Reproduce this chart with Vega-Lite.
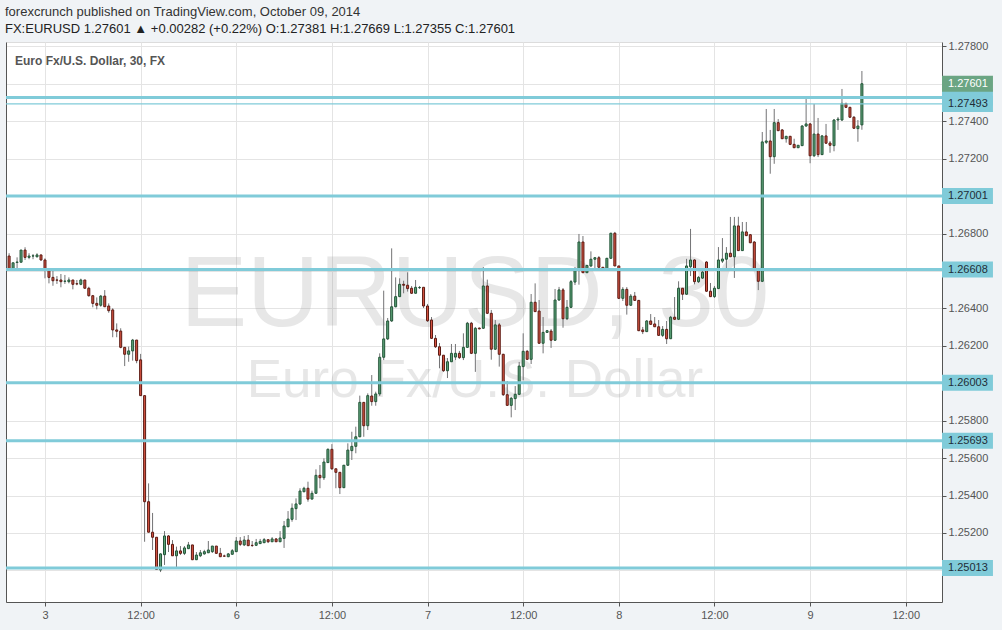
{
"$schema": "https://vega.github.io/schema/vega-lite/v6.json",
"width": 936, "height": 560,
"autosize": {"type": "none"},
"padding": {"left": 6, "top": 42, "right": 60, "bottom": 28},
"background": "#f0f3f6",
"config": {"view": {"fill": "white", "stroke": "#dcdcdc"}},
"title": {"text": "forexcrunch  published on TradingView.com, October 09, 2014", "subtitle": "FX:EURUSD 1.27601 ▲ +0.00282 (+0.22%)  O:1.27381  H:1.27669  L:1.27355  C:1.27601", "anchor": "start", "frame": "group", "font": "Liberation Sans", "fontSize": 13, "fontWeight": "normal", "color": "#333333", "subtitleFont": "Liberation Sans", "subtitleFontSize": 13, "subtitleColor": "#222222", "offset": 4, "subtitlePadding": 4, "dx": -1},
"datasets": {
"candles": [
{"t":-4.5,"open":1.26680,"high":1.26695,"low":1.26609,"close":1.26609},
{"t":-4.0,"open":1.26609,"high":1.26644,"low":1.26605,"close":1.26644},
{"t":-3.5,"open":1.26646,"high":1.26673,"low":1.26609,"close":1.26648},
{"t":-3.0,"open":1.26647,"high":1.26712,"low":1.26647,"close":1.26712},
{"t":-2.5,"open":1.26712,"high":1.26727,"low":1.26659,"close":1.26673},
{"t":-2.0,"open":1.26673,"high":1.26695,"low":1.26663,"close":1.26680},
{"t":-1.5,"open":1.26680,"high":1.26691,"low":1.26663,"close":1.26681},
{"t":-1.0,"open":1.26676,"high":1.26695,"low":1.26673,"close":1.26686},
{"t":-0.5,"open":1.26686,"high":1.26686,"low":1.26655,"close":1.26659},
{"t":0.0,"open":1.26659,"high":1.26668,"low":1.26561,"close":1.26609},
{"t":0.5,"open":1.26609,"high":1.26609,"low":1.26534,"close":1.26566},
{"t":1.0,"open":1.26566,"high":1.26609,"low":1.26521,"close":1.26548},
{"t":1.5,"open":1.26552,"high":1.26573,"low":1.26531,"close":1.26551},
{"t":2.0,"open":1.26552,"high":1.26584,"low":1.26513,"close":1.26543},
{"t":2.5,"open":1.26545,"high":1.26579,"low":1.26531,"close":1.26546},
{"t":3.0,"open":1.26543,"high":1.26566,"low":1.26534,"close":1.26552},
{"t":3.5,"open":1.26552,"high":1.26552,"low":1.26502,"close":1.26529},
{"t":4.0,"open":1.26532,"high":1.26552,"low":1.26524,"close":1.26531},
{"t":4.5,"open":1.26529,"high":1.26559,"low":1.26524,"close":1.26552},
{"t":5.0,"open":1.26552,"high":1.26552,"low":1.26505,"close":1.26508},
{"t":5.5,"open":1.26508,"high":1.26516,"low":1.26463,"close":1.26468},
{"t":6.0,"open":1.26468,"high":1.26472,"low":1.26406,"close":1.26427},
{"t":6.5,"open":1.26427,"high":1.26459,"low":1.26395,"close":1.26417},
{"t":7.0,"open":1.26417,"high":1.26472,"low":1.26409,"close":1.26466},
{"t":7.5,"open":1.26466,"high":1.26498,"low":1.26409,"close":1.26409},
{"t":8.0,"open":1.26413,"high":1.26427,"low":1.26377,"close":1.26388},
{"t":8.5,"open":1.26392,"high":1.26401,"low":1.26246,"close":1.26285},
{"t":9.0,"open":1.26285,"high":1.26320,"low":1.26246,"close":1.26278},
{"t":9.5,"open":1.26279,"high":1.26294,"low":1.26187,"close":1.26192},
{"t":10.0,"open":1.26192,"high":1.26192,"low":1.26092,"close":1.26155},
{"t":10.5,"open":1.26155,"high":1.26196,"low":1.26115,"close":1.26173},
{"t":11.0,"open":1.26173,"high":1.26237,"low":1.26121,"close":1.26231},
{"t":11.5,"open":1.26231,"high":1.26231,"low":1.26107,"close":1.26121},
{"t":12.0,"open":1.26125,"high":1.26157,"low":1.25934,"close":1.25934},
{"t":12.5,"open":1.25934,"high":1.25934,"low":1.25153,"close":1.25367},
{"t":13.0,"open":1.25367,"high":1.25465,"low":1.25203,"close":1.25204},
{"t":13.5,"open":1.25204,"high":1.25307,"low":1.25109,"close":1.25177},
{"t":14.0,"open":1.25177,"high":1.25177,"low":1.25002,"close":1.25005},
{"t":14.5,"open":1.25002,"high":1.25091,"low":1.24991,"close":1.25088},
{"t":15.0,"open":1.25084,"high":1.25210,"low":1.25029,"close":1.25184},
{"t":15.5,"open":1.25184,"high":1.25189,"low":1.25098,"close":1.25139},
{"t":16.0,"open":1.25139,"high":1.25162,"low":1.25077,"close":1.25078},
{"t":16.5,"open":1.25078,"high":1.25127,"low":1.25009,"close":1.25104},
{"t":17.0,"open":1.25104,"high":1.25130,"low":1.25082,"close":1.25091},
{"t":17.5,"open":1.25091,"high":1.25130,"low":1.25082,"close":1.25120},
{"t":18.0,"open":1.25116,"high":1.25152,"low":1.25114,"close":1.25136},
{"t":18.5,"open":1.25136,"high":1.25136,"low":1.25055,"close":1.25057},
{"t":19.0,"open":1.25057,"high":1.25098,"low":1.25055,"close":1.25082},
{"t":19.5,"open":1.25078,"high":1.25109,"low":1.25071,"close":1.25094},
{"t":20.0,"open":1.25088,"high":1.25110,"low":1.25084,"close":1.25100},
{"t":20.5,"open":1.25094,"high":1.25157,"low":1.25093,"close":1.25109},
{"t":21.0,"open":1.25100,"high":1.25130,"low":1.25093,"close":1.25130},
{"t":21.5,"open":1.25130,"high":1.25130,"low":1.25088,"close":1.25091},
{"t":22.0,"open":1.25091,"high":1.25120,"low":1.25073,"close":1.25073},
{"t":22.5,"open":1.25077,"high":1.25084,"low":1.25073,"close":1.25076},
{"t":23.0,"open":1.25073,"high":1.25093,"low":1.25071,"close":1.25088},
{"t":23.5,"open":1.25086,"high":1.25114,"low":1.25085,"close":1.25105},
{"t":24.0,"open":1.25100,"high":1.25178,"low":1.25098,"close":1.25157},
{"t":24.5,"open":1.25157,"high":1.25178,"low":1.25130,"close":1.25139},
{"t":25.0,"open":1.25136,"high":1.25184,"low":1.25130,"close":1.25162},
{"t":25.5,"open":1.25162,"high":1.25189,"low":1.25130,"close":1.25132},
{"t":26.0,"open":1.25134,"high":1.25157,"low":1.25125,"close":1.25133},
{"t":26.5,"open":1.25134,"high":1.25168,"low":1.25130,"close":1.25148},
{"t":27.0,"open":1.25143,"high":1.25168,"low":1.25141,"close":1.25155},
{"t":27.5,"open":1.25148,"high":1.25173,"low":1.25146,"close":1.25164},
{"t":28.0,"open":1.25164,"high":1.25164,"low":1.25146,"close":1.25153},
{"t":28.5,"open":1.25153,"high":1.25178,"low":1.25152,"close":1.25168},
{"t":29.0,"open":1.25168,"high":1.25173,"low":1.25152,"close":1.25153},
{"t":29.5,"open":1.25153,"high":1.25210,"low":1.25152,"close":1.25173},
{"t":30.0,"open":1.25171,"high":1.25264,"low":1.25120,"close":1.25237},
{"t":30.5,"open":1.25233,"high":1.25317,"low":1.25232,"close":1.25274},
{"t":31.0,"open":1.25273,"high":1.25358,"low":1.25260,"close":1.25332},
{"t":31.5,"open":1.25330,"high":1.25385,"low":1.25269,"close":1.25355},
{"t":32.0,"open":1.25355,"high":1.25439,"low":1.25349,"close":1.25424},
{"t":32.5,"open":1.25420,"high":1.25447,"low":1.25419,"close":1.25439},
{"t":33.0,"open":1.25439,"high":1.25474,"low":1.25367,"close":1.25381},
{"t":33.5,"open":1.25381,"high":1.25426,"low":1.25380,"close":1.25412},
{"t":34.0,"open":1.25412,"high":1.25540,"low":1.25411,"close":1.25508},
{"t":34.5,"open":1.25508,"high":1.25563,"low":1.25439,"close":1.25495},
{"t":35.0,"open":1.25495,"high":1.25599,"low":1.25483,"close":1.25579},
{"t":35.5,"open":1.25576,"high":1.25652,"low":1.25574,"close":1.25647},
{"t":36.0,"open":1.25647,"high":1.25675,"low":1.25537,"close":1.25543},
{"t":36.5,"open":1.25543,"high":1.25543,"low":1.25439,"close":1.25524},
{"t":37.0,"open":1.25524,"high":1.25526,"low":1.25408,"close":1.25442},
{"t":37.5,"open":1.25442,"high":1.25563,"low":1.25440,"close":1.25562},
{"t":38.0,"open":1.25562,"high":1.25679,"low":1.25558,"close":1.25643},
{"t":38.5,"open":1.25640,"high":1.25741,"low":1.25590,"close":1.25663},
{"t":39.0,"open":1.25663,"high":1.25768,"low":1.25626,"close":1.25714},
{"t":39.5,"open":1.25714,"high":1.25934,"low":1.25712,"close":1.25898},
{"t":40.0,"open":1.25898,"high":1.25900,"low":1.25714,"close":1.25773},
{"t":40.5,"open":1.25773,"high":1.25946,"low":1.25750,"close":1.25934},
{"t":41.0,"open":1.25932,"high":1.26044,"low":1.25880,"close":1.25902},
{"t":41.5,"open":1.25902,"high":1.25955,"low":1.25880,"close":1.25943},
{"t":42.0,"open":1.25943,"high":1.26160,"low":1.25932,"close":1.26139},
{"t":42.5,"open":1.26139,"high":1.26495,"low":1.26124,"close":1.26237},
{"t":43.0,"open":1.26237,"high":1.26349,"low":1.26231,"close":1.26333},
{"t":43.5,"open":1.26333,"high":1.26721,"low":1.26328,"close":1.26409},
{"t":44.0,"open":1.26409,"high":1.26566,"low":1.26406,"close":1.26463},
{"t":44.5,"open":1.26463,"high":1.26561,"low":1.26461,"close":1.26529},
{"t":45.0,"open":1.26529,"high":1.26548,"low":1.26481,"close":1.26524},
{"t":45.5,"open":1.26524,"high":1.26593,"low":1.26490,"close":1.26506},
{"t":46.0,"open":1.26508,"high":1.26520,"low":1.26477,"close":1.26481},
{"t":46.5,"open":1.26481,"high":1.26552,"low":1.26480,"close":1.26513},
{"t":47.0,"open":1.26511,"high":1.26520,"low":1.26504,"close":1.26512},
{"t":47.5,"open":1.26513,"high":1.26513,"low":1.26402,"close":1.26413},
{"t":48.0,"open":1.26413,"high":1.26424,"low":1.26328,"close":1.26334},
{"t":48.5,"open":1.26338,"high":1.26354,"low":1.26237,"close":1.26240},
{"t":49.0,"open":1.26240,"high":1.26258,"low":1.26189,"close":1.26195},
{"t":49.5,"open":1.26195,"high":1.26215,"low":1.26080,"close":1.26150},
{"t":50.0,"open":1.26150,"high":1.26150,"low":1.26061,"close":1.26067},
{"t":50.5,"open":1.26067,"high":1.26135,"low":1.26028,"close":1.26115},
{"t":51.0,"open":1.26115,"high":1.26210,"low":1.26114,"close":1.26160},
{"t":51.5,"open":1.26140,"high":1.26210,"low":1.26124,"close":1.26160},
{"t":52.0,"open":1.26160,"high":1.26173,"low":1.26130,"close":1.26137},
{"t":52.5,"open":1.26137,"high":1.26267,"low":1.26124,"close":1.26192},
{"t":53.0,"open":1.26192,"high":1.26328,"low":1.26189,"close":1.26321},
{"t":53.5,"open":1.26321,"high":1.26328,"low":1.26156,"close":1.26160},
{"t":54.0,"open":1.26160,"high":1.26301,"low":1.26061,"close":1.26294},
{"t":54.5,"open":1.26295,"high":1.26298,"low":1.26288,"close":1.26291},
{"t":55.0,"open":1.26294,"high":1.26621,"low":1.26291,"close":1.26520},
{"t":55.5,"open":1.26520,"high":1.26554,"low":1.26370,"close":1.26374},
{"t":56.0,"open":1.26374,"high":1.26392,"low":1.26126,"close":1.26182},
{"t":56.5,"open":1.26182,"high":1.26338,"low":1.26178,"close":1.26312},
{"t":57.0,"open":1.26312,"high":1.26322,"low":1.26089,"close":1.26155},
{"t":57.5,"open":1.26155,"high":1.26157,"low":1.25932,"close":1.25939},
{"t":58.0,"open":1.25939,"high":1.26012,"low":1.25879,"close":1.25882},
{"t":58.5,"open":1.25882,"high":1.25927,"low":1.25818,"close":1.25920},
{"t":59.0,"open":1.25918,"high":1.25985,"low":1.25857,"close":1.25941},
{"t":59.5,"open":1.25941,"high":1.26114,"low":1.25937,"close":1.26092},
{"t":60.0,"open":1.26089,"high":1.26267,"low":1.26017,"close":1.26171},
{"t":60.5,"open":1.26171,"high":1.26178,"low":1.26124,"close":1.26128},
{"t":61.0,"open":1.26128,"high":1.26477,"low":1.26103,"close":1.26433},
{"t":61.5,"open":1.26433,"high":1.26534,"low":1.26381,"close":1.26383},
{"t":62.0,"open":1.26386,"high":1.26445,"low":1.26210,"close":1.26214},
{"t":62.5,"open":1.26214,"high":1.26354,"low":1.26160,"close":1.26272},
{"t":63.0,"open":1.26272,"high":1.26285,"low":1.26269,"close":1.26281},
{"t":63.5,"open":1.26279,"high":1.26290,"low":1.26189,"close":1.26230},
{"t":64.0,"open":1.26230,"high":1.26504,"low":1.26226,"close":1.26445},
{"t":64.5,"open":1.26445,"high":1.26515,"low":1.26440,"close":1.26499},
{"t":65.0,"open":1.26499,"high":1.26509,"low":1.26297,"close":1.26345},
{"t":65.5,"open":1.26345,"high":1.26445,"low":1.26338,"close":1.26406},
{"t":66.0,"open":1.26406,"high":1.26552,"low":1.26402,"close":1.26543},
{"t":66.5,"open":1.26541,"high":1.26621,"low":1.26525,"close":1.26609},
{"t":67.0,"open":1.26609,"high":1.26798,"low":1.26527,"close":1.26755},
{"t":67.5,"open":1.26755,"high":1.26787,"low":1.26590,"close":1.26591},
{"t":68.0,"open":1.26591,"high":1.26632,"low":1.26590,"close":1.26630},
{"t":68.5,"open":1.26627,"high":1.26705,"low":1.26621,"close":1.26663},
{"t":69.0,"open":1.26663,"high":1.26675,"low":1.26605,"close":1.26671},
{"t":69.5,"open":1.26671,"high":1.26680,"low":1.26616,"close":1.26620},
{"t":70.0,"open":1.26620,"high":1.26621,"low":1.26611,"close":1.26612},
{"t":70.5,"open":1.26612,"high":1.26670,"low":1.26611,"close":1.26668},
{"t":71.0,"open":1.26668,"high":1.26804,"low":1.26665,"close":1.26802},
{"t":71.5,"open":1.26802,"high":1.26809,"low":1.26626,"close":1.26627},
{"t":72.0,"open":1.26627,"high":1.26627,"low":1.26450,"close":1.26454},
{"t":72.5,"open":1.26454,"high":1.26514,"low":1.26440,"close":1.26502},
{"t":73.0,"open":1.26502,"high":1.26514,"low":1.26367,"close":1.26417},
{"t":73.5,"open":1.26417,"high":1.26477,"low":1.26413,"close":1.26466},
{"t":74.0,"open":1.26466,"high":1.26488,"low":1.26440,"close":1.26443},
{"t":74.5,"open":1.26443,"high":1.26445,"low":1.26279,"close":1.26281},
{"t":75.0,"open":1.26285,"high":1.26301,"low":1.26263,"close":1.26276},
{"t":75.5,"open":1.26276,"high":1.26338,"low":1.26274,"close":1.26333},
{"t":76.0,"open":1.26333,"high":1.26370,"low":1.26312,"close":1.26315},
{"t":76.5,"open":1.26317,"high":1.26354,"low":1.26301,"close":1.26302},
{"t":77.0,"open":1.26302,"high":1.26338,"low":1.26253,"close":1.26256},
{"t":77.5,"open":1.26256,"high":1.26306,"low":1.26247,"close":1.26288},
{"t":78.0,"open":1.26288,"high":1.26333,"low":1.26210,"close":1.26238},
{"t":78.5,"open":1.26238,"high":1.26360,"low":1.26237,"close":1.26353},
{"t":79.0,"open":1.26353,"high":1.26461,"low":1.26338,"close":1.26342},
{"t":79.5,"open":1.26342,"high":1.26545,"low":1.26338,"close":1.26508},
{"t":80.0,"open":1.26508,"high":1.26509,"low":1.26445,"close":1.26476},
{"t":80.5,"open":1.26476,"high":1.26665,"low":1.26472,"close":1.26627},
{"t":81.0,"open":1.26623,"high":1.26825,"low":1.26573,"close":1.26659},
{"t":81.5,"open":1.26659,"high":1.26664,"low":1.26529,"close":1.26543},
{"t":82.0,"open":1.26543,"high":1.26573,"low":1.26536,"close":1.26566},
{"t":82.5,"open":1.26562,"high":1.26610,"low":1.26558,"close":1.26594},
{"t":83.0,"open":1.26648,"high":1.26653,"low":1.26488,"close":1.26492},
{"t":83.5,"open":1.26492,"high":1.26536,"low":1.26461,"close":1.26463},
{"t":84.0,"open":1.26463,"high":1.26520,"low":1.26456,"close":1.26508},
{"t":84.5,"open":1.26506,"high":1.26728,"low":1.26504,"close":1.26659},
{"t":85.0,"open":1.26653,"high":1.26776,"low":1.26643,"close":1.26664},
{"t":85.5,"open":1.26663,"high":1.26728,"low":1.26605,"close":1.26695},
{"t":86.0,"open":1.26695,"high":1.26889,"low":1.26675,"close":1.26676},
{"t":86.5,"open":1.26676,"high":1.26889,"low":1.26563,"close":1.26841},
{"t":87.0,"open":1.26841,"high":1.26890,"low":1.26707,"close":1.26709},
{"t":87.5,"open":1.26709,"high":1.26862,"low":1.26707,"close":1.26809},
{"t":88.0,"open":1.26809,"high":1.26862,"low":1.26787,"close":1.26789},
{"t":88.5,"open":1.26794,"high":1.26798,"low":1.26749,"close":1.26751},
{"t":89.0,"open":1.26755,"high":1.26760,"low":1.26605,"close":1.26609},
{"t":89.5,"open":1.26609,"high":1.26610,"low":1.26498,"close":1.26545},
{"t":90.0,"open":1.26545,"high":1.27343,"low":1.26541,"close":1.27290},
{"t":90.5,"open":1.27288,"high":1.27466,"low":1.27279,"close":1.27295},
{"t":91.0,"open":1.27295,"high":1.27354,"low":1.27120,"close":1.27211},
{"t":91.5,"open":1.27211,"high":1.27466,"low":1.27173,"close":1.27393},
{"t":92.0,"open":1.27393,"high":1.27412,"low":1.27348,"close":1.27350},
{"t":92.5,"open":1.27354,"high":1.27359,"low":1.27306,"close":1.27307},
{"t":93.0,"open":1.27307,"high":1.27322,"low":1.27286,"close":1.27320},
{"t":93.5,"open":1.27320,"high":1.27322,"low":1.27273,"close":1.27277},
{"t":94.0,"open":1.27277,"high":1.27307,"low":1.27257,"close":1.27259},
{"t":94.5,"open":1.27259,"high":1.27273,"low":1.27257,"close":1.27272},
{"t":95.0,"open":1.27270,"high":1.27380,"low":1.27268,"close":1.27375},
{"t":95.5,"open":1.27375,"high":1.27525,"low":1.27370,"close":1.27386},
{"t":96.0,"open":1.27386,"high":1.27391,"low":1.27176,"close":1.27216},
{"t":96.5,"open":1.27216,"high":1.27493,"low":1.27209,"close":1.27332},
{"t":97.0,"open":1.27332,"high":1.27418,"low":1.27209,"close":1.27222},
{"t":97.5,"open":1.27222,"high":1.27327,"low":1.27220,"close":1.27322},
{"t":98.0,"open":1.27322,"high":1.27386,"low":1.27279,"close":1.27283},
{"t":98.5,"open":1.27284,"high":1.27295,"low":1.27232,"close":1.27272},
{"t":99.0,"open":1.27270,"high":1.27412,"low":1.27240,"close":1.27407},
{"t":99.5,"open":1.27407,"high":1.27423,"low":1.27354,"close":1.27412},
{"t":100.0,"open":1.27407,"high":1.27573,"low":1.27402,"close":1.27496},
{"t":100.5,"open":1.27496,"high":1.27498,"low":1.27471,"close":1.27475},
{"t":101.0,"open":1.27475,"high":1.27477,"low":1.27418,"close":1.27422},
{"t":101.5,"open":1.27422,"high":1.27428,"low":1.27359,"close":1.27363},
{"t":102.0,"open":1.27361,"high":1.27407,"low":1.27291,"close":1.27375},
{"t":102.5,"open":1.27381,"high":1.27669,"low":1.27355,"close":1.27601}
],
"levels": [
{"price":1.27528,"label":"1.27528","kind":"covered"},
{"price":1.27493,"label":"1.27493","kind":"thin"},
{"price":1.27001,"label":"1.27001","kind":"level"},
{"price":1.26608,"label":"1.26608","kind":"level"},
{"price":1.26003,"label":"1.26003","kind":"level"},
{"price":1.25693,"label":"1.25693","kind":"level"},
{"price":1.25013,"label":"1.25013","kind":"level"},
{"price":1.27601,"label":"1.27601","kind":"last"}
]
},
"layer": [
{
"data": {"values": [{"label": "EURUSD, 30"}]},
"mark": {"type": "text", "font": "Liberation Sans", "fontSize": 100, "align": "center", "baseline": "alphabetic", "color": "#8a8a8a", "opacity": 0.2},
"encoding": {
"x": {"datum": 53.95, "type": "quantitative", "title": null, "scale": {"domain": [-4.89, 112.55], "nice": false, "zero": false, "padding": 0}},
"y": {"datum": 1.26308, "type": "quantitative", "title": null, "axis": null, "scale": {"domain": [1.24831, 1.27824], "nice": false, "zero": false}},
"text": {"field": "label"}
}
},
{
"data": {"values": [{"label": "Euro Fx/U.S. Dollar"}]},
"mark": {"type": "text", "font": "Liberation Sans", "fontSize": 53, "align": "center", "baseline": "alphabetic", "color": "#8a8a8a", "opacity": 0.2},
"encoding": {
"x": {"datum": 53.95, "type": "quantitative", "title": null, "scale": {"domain": [-4.89, 112.55], "nice": false, "zero": false, "padding": 0}},
"y": {"datum": 1.25928, "type": "quantitative", "title": null, "axis": null, "scale": {"domain": [1.24831, 1.27824], "nice": false, "zero": false}},
"text": {"field": "label"}
}
},
{
"data": {"name": "candles"},
"mark": {"type": "rule", "color": "#737375", "strokeWidth": 1},
"encoding": {
"x": {"field": "t", "type": "quantitative", "title": null, "scale": {"domain": [-4.89, 112.55], "nice": false, "zero": false, "padding": 0}},
"y": {"field": "low", "type": "quantitative", "title": null, "scale": {"domain": [1.24831, 1.27824], "nice": false, "zero": false}, "axis": {"orient": "left", "labels": false, "ticks": false, "grid": false, "domainColor": "#555555", "title": null}},
"y2": {"field": "high"}
}
},
{
"data": {"name": "candles"},
"mark": {"type": "bar", "size": 2, "strokeWidth": 1},
"encoding": {
"x": {"field": "t", "type": "quantitative", "title": null, "scale": {"domain": [-4.89, 112.55], "nice": false, "zero": false, "padding": 0},
"axis": {"orient": "bottom", "values": [0, 12, 24, 36, 48, 60, 72, 84, 96, 108], "labelExpr": "datum.value == 0 ? '3' : datum.value == 24 ? '6' : datum.value == 48 ? '7' : datum.value == 72 ? '8' : datum.value == 96 ? '9' : '12:00'", "grid": true, "gridColor": "#e4e4e4", "tickColor": "#555555", "tickSize": 4, "domainColor": "#555555", "labelColor": "#555555", "labelFont": "Liberation Sans", "labelFontSize": 11, "labelPadding": 3, "title": null}},
"y": {"field": "open", "type": "quantitative", "title": null, "scale": {"domain": [1.24831, 1.27824], "nice": false, "zero": false},
"axis": {"orient": "right", "values": [1.25, 1.252, 1.254, 1.256, 1.258, 1.26, 1.262, 1.264, 1.266, 1.268, 1.27, 1.272, 1.274, 1.276, 1.278], "format": ".5f", "labelExpr": "(abs(datum.value-1.25)<0.000001 || abs(datum.value-1.26)<0.000001 || abs(datum.value-1.266)<0.000001 || abs(datum.value-1.27)<0.000001 || abs(datum.value-1.276)<0.000001) ? '' : datum.label", "grid": true, "gridColor": "#e4e4e4", "tickColor": "#555555", "tickSize": 4, "domainColor": "#555555", "labelColor": "#555555", "labelFont": "Liberation Sans", "labelFontSize": 11, "labelPadding": 2, "title": null}},
"y2": {"field": "close"},
"fill": {"condition": {"test": "datum.close >= datum.open", "value": "#5ea47a"}, "value": "#d75442"},
"stroke": {"condition": {"test": "datum.close >= datum.open", "value": "#225437"}, "value": "#5b1a13"}
}
},
{
"data": {"name": "levels"},
"transform": [{"filter": "datum.kind != 'last'"}],
"mark": {"type": "rule", "color": "#80cbd9"},
"encoding": {
"y": {"field": "price", "type": "quantitative", "title": null, "axis": null, "scale": {"domain": [1.24831, 1.27824], "nice": false, "zero": false}},
"strokeWidth": {"condition": {"test": "datum.kind == 'thin'", "value": 1.2}, "value": 3}
}
},
{
"data": {"name": "levels"},
"mark": {"type": "point", "shape": "M0,-0.3077H1.96V0.3077H0Z", "size": 2704, "filled": true, "opacity": 1, "strokeWidth": 0},
"encoding": {
"x": {"datum": 112.55, "type": "quantitative", "title": null, "scale": {"domain": [-4.89, 112.55], "nice": false, "zero": false, "padding": 0}},
"y": {"field": "price", "type": "quantitative", "title": null, "axis": null, "scale": {"domain": [1.24831, 1.27824], "nice": false, "zero": false}},
"color": {"condition": {"test": "datum.kind == 'last'", "value": "#6ba583"}, "value": "#80cbd9"}
}
},
{
"data": {"name": "levels"},
"transform": [{"filter": "datum.kind != 'covered'"}],
"mark": {"type": "text", "align": "left", "baseline": "middle", "dx": 6, "font": "Liberation Sans", "fontSize": 11},
"encoding": {
"x": {"datum": 112.55, "type": "quantitative", "title": null, "scale": {"domain": [-4.89, 112.55], "nice": false, "zero": false, "padding": 0}},
"y": {"field": "price", "type": "quantitative", "title": null, "axis": null, "scale": {"domain": [1.24831, 1.27824], "nice": false, "zero": false}},
"text": {"field": "label"},
"color": {"condition": {"test": "datum.kind == 'last'", "value": "#ffffff"}, "value": "#1f2d37"}
}
},
{
"data": {"values": [{"label": "Euro Fx/U.S. Dollar, 30, FX"}]},
"mark": {"type": "text", "font": "Liberation Sans", "fontSize": 12, "fontWeight": "bold", "align": "left", "baseline": "alphabetic", "color": "#555555"},
"encoding": {
"x": {"datum": -3.76, "type": "quantitative", "title": null, "scale": {"domain": [-4.89, 112.55], "nice": false, "zero": false, "padding": 0}},
"y": {"datum": 1.27701, "type": "quantitative", "title": null, "axis": null, "scale": {"domain": [1.24831, 1.27824], "nice": false, "zero": false}},
"text": {"field": "label"}
}
}
],
"resolve": {"axis": {"y": "independent"}}
}
